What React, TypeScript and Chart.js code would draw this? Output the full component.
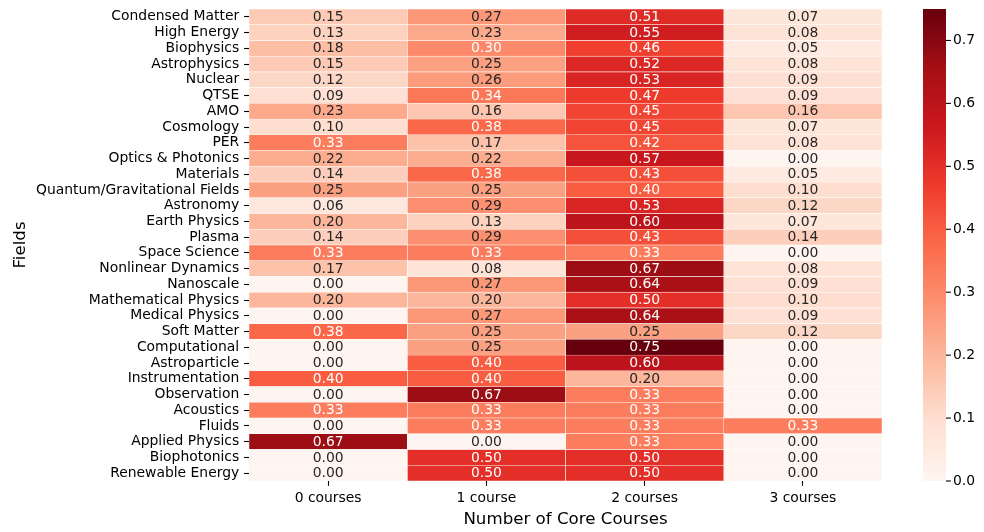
import { useEffect, useRef } from "react";
import { Chart, registerables } from "chart.js";

Chart.register(...registerables);

const fields = [
  "Condensed Matter",
  "High Energy",
  "Biophysics",
  "Astrophysics",
  "Nuclear",
  "QTSE",
  "AMO",
  "Cosmology",
  "PER",
  "Optics & Photonics",
  "Materials",
  "Quantum/Gravitational Fields",
  "Astronomy",
  "Earth Physics",
  "Plasma",
  "Space Science",
  "Nonlinear Dynamics",
  "Nanoscale",
  "Mathematical Physics",
  "Medical Physics",
  "Soft Matter",
  "Computational",
  "Astroparticle",
  "Instrumentation",
  "Observation",
  "Acoustics",
  "Fluids",
  "Applied Physics",
  "Biophotonics",
  "Renewable Energy",
];

const colLabels = ["0 courses", "1 course", "2 courses", "3 courses"];

const zeroCourses = [
  0.15, 0.13, 0.18, 0.15, 0.12, 0.09, 0.23, 0.1, 0.33, 0.22, 0.14, 0.25, 0.06, 0.2, 0.14,
  0.33, 0.17, 0.0, 0.2, 0.0, 0.38, 0.0, 0.0, 0.4, 0.0, 0.33, 0.0, 0.67, 0.0, 0.0,
];
const oneCourse = [
  0.27, 0.23, 0.3, 0.25, 0.26, 0.34, 0.16, 0.38, 0.17, 0.22, 0.38, 0.25, 0.29, 0.13, 0.29,
  0.33, 0.08, 0.27, 0.2, 0.27, 0.25, 0.25, 0.4, 0.4, 0.67, 0.33, 0.33, 0.0, 0.5, 0.5,
];
const twoCourses = [
  0.51, 0.55, 0.46, 0.52, 0.53, 0.47, 0.45, 0.45, 0.42, 0.57, 0.43, 0.4, 0.53, 0.6, 0.43,
  0.33, 0.67, 0.64, 0.5, 0.64, 0.25, 0.75, 0.6, 0.2, 0.33, 0.33, 0.33, 0.33, 0.5, 0.5,
];
const threeCourses = [
  0.07, 0.08, 0.05, 0.08, 0.09, 0.09, 0.16, 0.07, 0.08, 0.0, 0.05, 0.1, 0.12, 0.07, 0.14,
  0.0, 0.08, 0.09, 0.1, 0.09, 0.12, 0.0, 0.0, 0.0, 0.0, 0.0, 0.33, 0.0, 0.0, 0.0,
];

const cbTicks = [0, 0.1, 0.2, 0.3, 0.4, 0.5, 0.6, 0.7];
const vmax = 0.75;

const REDS: number[][] = [
  [255, 245, 240],
  [254, 224, 210],
  [252, 187, 161],
  [252, 146, 114],
  [251, 106, 74],
  [239, 59, 44],
  [203, 24, 29],
  [165, 15, 21],
  [103, 0, 13],
];

const FAMILY = "'DejaVu Sans', sans-serif";

function colorAt(v: number): number[] {
  const idx = Math.max(0, Math.min(255, Math.floor((v / vmax) * 256)));
  const t = idx / 255;
  const pos = t * 8;
  const i = Math.min(7, Math.floor(pos));
  const f = pos - i;
  const a = REDS[i];
  const b = REDS[i + 1];
  return [0, 1, 2].map((k) => a[k] + f * (b[k] - a[k]));
}

function css(c: number[]): string {
  return `rgb(${Math.round(c[0])}, ${Math.round(c[1])}, ${Math.round(c[2])})`;
}

function luminance(c: number[]): number {
  const lin = c.map((x) => {
    const v = x / 255;
    return v <= 0.03928 ? v / 12.92 : Math.pow((v + 0.055) / 1.055, 2.4);
  });
  return 0.2126 * lin[0] + 0.7152 * lin[1] + 0.0722 * lin[2];
}

function noPad(s: any) {
  s.paddingTop = 0;
  s.paddingBottom = 0;
  s.paddingLeft = 0;
  s.paddingRight = 0;
}

export default function App() {
  const ref = useRef<HTMLCanvasElement>(null);

  useEffect(() => {
    const columns = [zeroCourses, oneCourse, twoCourses, threeCourses];
    const tickFont = { family: FAMILY, size: 13.9 };
    const titleFont = { family: FAMILY, size: 16.67 };

    const annot = {
      id: "annot",
      afterDatasetsDraw(chart: any) {
        const ctx = chart.ctx;
        ctx.save();
        ctx.font = `13.9px ${FAMILY}`;
        ctx.textAlign = "center";
        ctx.textBaseline = "middle";
        columns.forEach((vals, c) => {
          const meta = chart.getDatasetMeta(c);
          meta.data.forEach((el: any, r: number) => {
            const p = el.getProps(["x", "y", "base"], true);
            const cx = (p.x + p.base) / 2;
            const col = colorAt(vals[r]);
            ctx.fillStyle = luminance(col) > 0.408 ? "#262626" : "#ffffff";
            ctx.fillText(vals[r].toFixed(2), cx, p.y + 0.5);
          });
        });
        ctx.restore();
      },
    };

    const colorbar = {
      id: "colorbar",
      afterDraw(chart: any) {
        const ctx = chart.ctx;
        const s = chart.scales.cb;
        const x0 = chart.chartArea.right + 41;
        const w = 23;
        const y0 = s.getPixelForValue(0);
        const y1 = s.getPixelForValue(vmax);
        ctx.save();
        const g = ctx.createLinearGradient(0, y0, 0, y1);
        REDS.forEach((c, i) => g.addColorStop(i / 8, css(c)));
        ctx.fillStyle = g;
        ctx.fillRect(x0, y1, w, y0 - y1);
        ctx.strokeStyle = "#000";
        ctx.lineWidth = 1.1;
        s.ticks.forEach((t: any) => {
          const y = s.getPixelForValue(t.value);
          ctx.beginPath();
          ctx.moveTo(x0 + w, y);
          ctx.lineTo(x0 + w + 4.9, y);
          ctx.stroke();
        });
        ctx.restore();
      },
    };

    const chart = new Chart(ref.current as HTMLCanvasElement, {
      type: "bar",
      data: {
        labels: fields,
        datasets: columns.map((vals, c) => ({
          label: colLabels[c],
          data: vals.map(() => [c, c + 1]),
          backgroundColor: (ctx: any) => css(colorAt(vals[ctx.dataIndex] ?? 0)),
          borderColor: "#ffffff",
          borderWidth: 0.55,
          borderSkipped: false,
          barPercentage: 1,
          categoryPercentage: 1,
          grouped: false,
        })) as any,
      },
      options: {
        indexAxis: "y",
        animation: false,
        responsive: true,
        maintainAspectRatio: false,
        layout: { padding: { top: 9, left: 0, right: 0, bottom: 0 } },
        plugins: { legend: { display: false }, tooltip: { enabled: false } },
        scales: {
          x: {
            type: "linear",
            position: "bottom",
            min: 0,
            max: 4,
            offset: false,
            afterBuildTicks: (s: any) => {
              s.ticks = colLabels.map((_, i) => ({ value: i + 0.5 }));
            },
            afterFit: (s: any) => {
              s.height = 51;
              noPad(s);
            },
            ticks: {
              callback: (_v: any, i: number) => colLabels[i],
              font: tickFont,
              color: "#000",
              padding: 4.5,
              maxRotation: 0,
              autoSkip: false,
            },
            grid: {
              display: true,
              offset: false,
              drawOnChartArea: false,
              drawTicks: true,
              tickLength: 4.9,
              tickColor: "#000",
              tickWidth: 1.1,
            },
            border: { display: false },
            title: {
              display: true,
              text: "Number of Core Courses",
              font: titleFont,
              color: "#000",
              padding: { top: 0, bottom: 2 },
            },
          },
          y: {
            type: "category",
            position: "left",
            afterFit: (s: any) => {
              s.width = 249;
              noPad(s);
            },
            ticks: { font: tickFont, color: "#000", padding: 4.9, autoSkip: false },
            grid: {
              display: true,
              offset: false,
              drawOnChartArea: false,
              drawTicks: true,
              tickLength: 4.9,
              tickColor: "#000",
              tickWidth: 1.1,
            },
            border: { display: false },
            title: {
              display: true,
              text: "Fields",
              font: titleFont,
              color: "#000",
              padding: { top: 10.5, bottom: 0 },
            },
          },
          cb: {
            type: "linear",
            position: "right",
            min: 0,
            max: vmax,
            offset: false,
            afterBuildTicks: (s: any) => {
              s.ticks = cbTicks.map((v) => ({ value: v }));
            },
            afterFit: (s: any) => {
              s.width = 102;
              noPad(s);
            },
            ticks: {
              callback: (v: any) => Number(v).toFixed(1),
              font: tickFont,
              color: "#000",
              padding: 71,
            },
            grid: { display: false, drawTicks: false, offset: false },
            border: { display: false },
          },
        } as any,
      },
      plugins: [annot, colorbar],
    });
    return () => chart.destroy();
  }, []);

  return (
    <div style={{ position: "absolute", left: 0, top: 0, width: 984, height: 532 }}>
      <canvas ref={ref} />
    </div>
  );
}
